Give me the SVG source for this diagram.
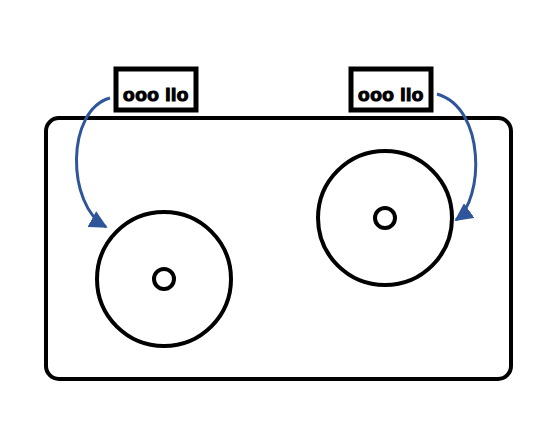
<svg xmlns="http://www.w3.org/2000/svg" width="545" height="422" viewBox="0 0 545 422">
<defs>
<style>
.k{fill:none;stroke:#000;stroke-width:4}
.lb{fill:#fff;stroke:#000;stroke-width:5}
.t{font-family:"Liberation Sans",Arial,sans-serif;font-weight:bold;font-size:19px;fill:#000;stroke:#000;stroke-width:1.2;text-anchor:middle;letter-spacing:0.5px}
.c{fill:none;stroke:#2f559a;stroke-width:3}
</style>
<marker id="ah" viewBox="0 0 10 10" refX="9" refY="5" markerWidth="6" markerHeight="6" orient="auto" markerUnits="strokeWidth">
<path d="M0,0 L10,5 L0,10 z" fill="#2f559a"/>
</marker>
</defs>
<rect width="545" height="422" fill="#fff"/>
<g id="board"><rect class="k" x="46" y="118" width="465" height="261" rx="13"/></g>
<g id="disk-left"><circle class="k" cx="164" cy="279" r="67"/><circle class="k" cx="164" cy="279" r="10"/></g>
<g id="disk-right"><circle class="k" cx="385" cy="218" r="67"/><circle class="k" cx="385" cy="218" r="10"/></g>
<g id="label-left"><rect class="lb" x="116" y="69" width="80" height="41"/><text class="t" x="156" y="101">ooo llo</text></g>
<g id="label-right"><rect class="lb" x="351" y="69" width="80" height="41"/><text class="t" x="391" y="101">ooo llo</text></g>
<g id="connectors">
<path class="c" d="M110,98 C66,110 66,205 106,227" marker-end="url(#ah)"/>
<path class="c" d="M437,94 C486,108 484,200 456,220" marker-end="url(#ah)"/>
</g>
</svg>
